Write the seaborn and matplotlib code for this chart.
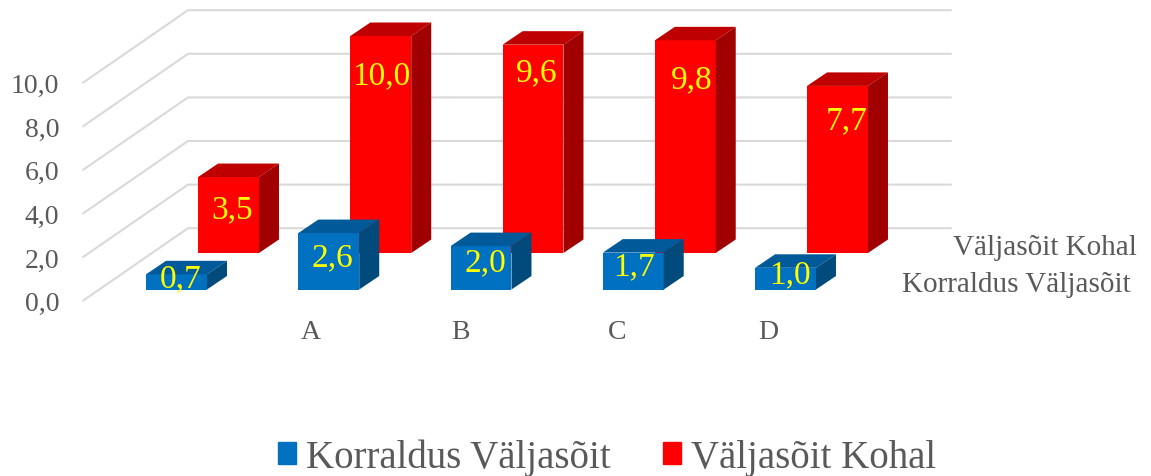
import matplotlib
matplotlib.use("Agg")
import matplotlib.pyplot as plt
from matplotlib.patches import Patch, Polygon
import seaborn as sns

groups = ['', 'A', 'B', 'C', 'D']
korraldus = [0.7, 2.6, 2.0, 1.7, 1.0]
kohal = [3.5, 10.0, 9.6, 9.8, 7.7]
y_ticks = [0, 2, 4, 6, 8, 10]
name_front = 'Korraldus Väljasõit'
name_back = 'Väljasõit Kohal'

W, H = 1151, 477
GRAY = '#595959'

sns.set_theme(style="white")
plt.rcParams['font.family'] = ['Liberation Serif', 'DejaVu Serif']

fig = plt.figure(figsize=(W / 100, H / 100), dpi=100, facecolor='white')


def comma(v):
    return f'{v:.1f}'.replace('.', ',')


def px_text(x, y, s, **kw):
    kw.setdefault('ha', 'center')
    kw.setdefault('va', 'center')
    return fig.text(x / W, 1 - y / H, s, **kw)


# back wall and floor lines, y axis in value units
wall_scale = 21.8
bg = fig.add_axes([62 / W, 0, (W - 62) / W, 1], zorder=0)
bg.set_xlim(62, W)
bg.set_ylim((301.7 - H) / wall_scale, 301.7 / wall_scale)
for v in y_ticks:
    bg.plot([83, 188, 951], [v, v + 72.5 / wall_scale, v + 72.5 / wall_scale],
            color='#d9d9d9', lw=1.5, solid_joinstyle='miter')
bg.set_yticks(y_ticks)
bg.set_yticklabels([comma(v) for v in y_ticks], fontsize=20, color=GRAY)
bg.set_xticks([])
bg.tick_params(axis='y', length=0, pad=2)
sns.despine(ax=bg, left=True, bottom=True)

# one axes per row of bars, the back row is shifted up and to the right
scale = 21.7
spacing = 152.25
depth_x = 20 / spacing
depth_y = 13.5 / scale


def bar_row(values, left, base, front, top, side, z):
    ax = fig.add_axes([left / W, 1 - base / H, spacing * 5 / W, scale * 12 / H], zorder=z)
    sns.barplot(x=groups, y=values, color=front, saturation=1, width=0.4, linewidth=0, ax=ax)
    ax.set_xlim(-0.5, 4.5)
    ax.set_ylim(0, 12)
    ax.axis('off')
    for bar in ax.patches:
        x0, x1 = bar.get_x(), bar.get_x() + bar.get_width()
        h = bar.get_height()
        ax.add_patch(Polygon([(x0, h), (x1, h), (x1 + depth_x, h + depth_y), (x0 + depth_x, h + depth_y)],
                             color=top, lw=0, clip_on=False))
        ax.add_patch(Polygon([(x1, 0), (x1 + depth_x, depth_y), (x1 + depth_x, h + depth_y), (x1, h)],
                             color=side, lw=0, clip_on=False))
    return ax


bar_row(kohal, 152.4, 254, '#ff0000', '#bf0000', '#a00000', 1)
bar_row(korraldus, 100.4, 290.5, '#0070c0', '#005a9a', '#004a7c', 2)

# value labels
front_pos = [(181, 279), (332, 258), (485, 263), (634, 267), (790, 275)]
back_pos = [(232, 210), (381, 76), (537, 73), (692, 80), (847, 121)]
for v, (x, y) in zip(korraldus + kohal, front_pos + back_pos):
    px_text(x, y, comma(v), fontsize=24, color='#ffff00', zorder=5)

# category labels
for g, x in zip(groups[1:], [311, 460, 617, 768]):
    px_text(x, 333, g, fontsize=20, color=GRAY)

# depth axis labels
px_text(1137, 248, name_back, fontsize=21, color=GRAY, ha='right')
px_text(1131, 285, name_front, fontsize=21, color=GRAY, ha='right')

handles = [Patch(color='#0070c0', label=name_front), Patch(color='#ff0000', label=name_back)]
fig.legend(handles=handles, loc='center', bbox_to_anchor=(607 / W, 1 - 458 / H), ncol=2, frameon=False,
           fontsize=28, labelcolor=GRAY, handlelength=0.47, handleheight=0.47,
           handletextpad=0.25, columnspacing=1.35, borderpad=0)

fig.savefig('out.png', dpi=100)
